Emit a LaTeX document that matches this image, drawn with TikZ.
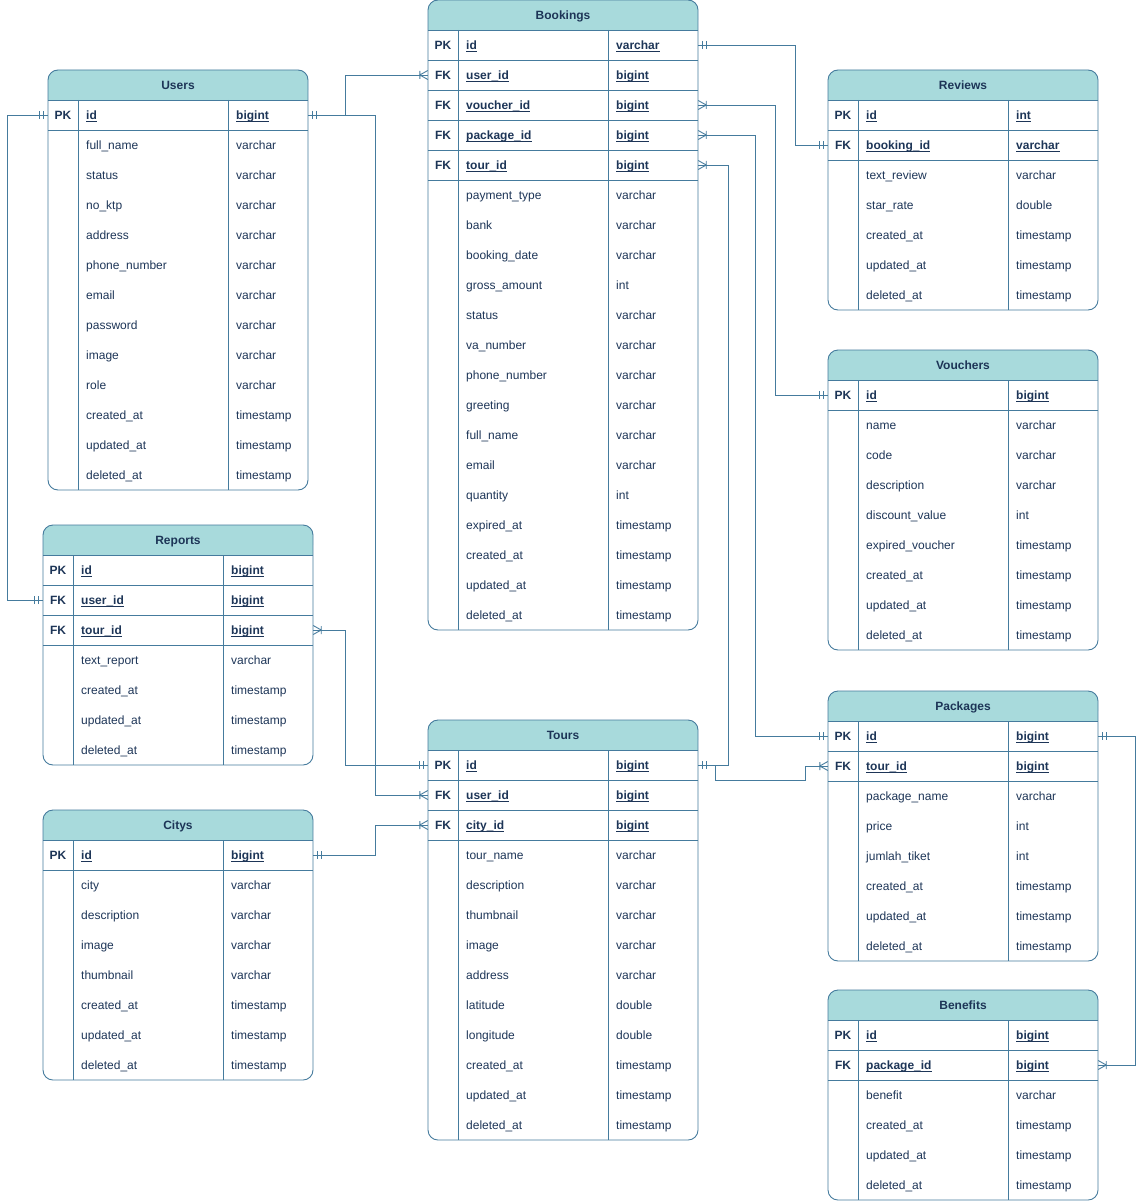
\documentclass[tikz,border=0pt]{standalone}
\usepackage{fontspec}
\setmainfont{Liberation Sans}

\definecolor{erline}{HTML}{457B9D}
\definecolor{erhead}{HTML}{A8DADC}
\definecolor{ertext}{HTML}{1D3557}

% crow's foot ends
\pgfarrowsdeclare{erone}{erone}
{\pgfarrowsleftextend{-9pt}\pgfarrowsrightextend{0pt}}
{\pgfsetdash{}{0pt}
 \pgfpathmoveto{\pgfpoint{-4pt}{-4pt}}\pgfpathlineto{\pgfpoint{-4pt}{4pt}}
 \pgfpathmoveto{\pgfpoint{-8pt}{-4pt}}\pgfpathlineto{\pgfpoint{-8pt}{4pt}}
 \pgfusepathqstroke}
\pgfarrowsdeclare{ermany}{ermany}
{\pgfarrowsleftextend{-9pt}\pgfarrowsrightextend{0pt}}
{\pgfsetdash{}{0pt}
 \pgfpathmoveto{\pgfpoint{0pt}{4.5pt}}\pgfpathlineto{\pgfpoint{-8pt}{0pt}}
 \pgfpathlineto{\pgfpoint{0pt}{-4.5pt}}
 \pgfpathmoveto{\pgfpoint{-8pt}{-4pt}}\pgfpathlineto{\pgfpoint{-8pt}{4pt}}
 \pgfusepathqstroke}

\tikzset{
  erbox/.style={draw=erline, line width=0.9pt},
  rowbox/.style={minimum height=30pt, inner sep=0pt, draw=none},
  keytxt/.style={inner sep=0pt, text height=8.6pt, text depth=0pt},
  fieldtxt/.style={keytxt, anchor=west},
  link/.style={draw=erline, line width=0.9pt},
  onetoone/.style={link, erone-erone},
  onetomany/.style={link, erone-ermany},
  manytoone/.style={link, ermany-erone}
}

\newcommand\keyul[1]{\setbox0\hbox{#1}\rlap{\rule[-2.4pt]{\wd0}{0.9pt}}\box0}

% #1 name, #2 x, #3 y, #4 width, #5 title, #6 key rows, #7 other rows
\newcommand\ertable[7]{%
  \foreach \pk/\fld/\typ [count=\i] in {#6} {
    \pgfmathsetmacro\ry{#3+30*\i+15}
    \node[rowbox, minimum width=#4] (#1-\fld) at (#2+#4/2,\ry) {};
    \node[keytxt] (#1-\fld-k) at (#2+15,\ry) {\bfseries\pk};
    \node[fieldtxt] (#1-\fld-n) at (#2+38,\ry) {\bfseries\keyul{\fld}};
    \node[fieldtxt] (#1-\fld-t) at (#2+188,\ry) {\bfseries\keyul{\typ}};
    \draw[erbox] (#2,\ry+15) -- (#2+#4,\ry+15);
    \xdef\nkeys{\i}
  }
  \foreach \fld/\typ [count=\i] in {#7} {
    \pgfmathsetmacro\ry{#3+30*(\i+\nkeys)+15}
    \node[rowbox, minimum width=#4] (#1-\fld) at (#2+#4/2,\ry) {};
    \node[fieldtxt] (#1-\fld-n) at (#2+38,\ry) {\fld};
    \node[fieldtxt] (#1-\fld-t) at (#2+188,\ry) {\typ};
    \xdef\nrows{\the\numexpr\i+\nkeys\relax}
  }
  \pgfmathsetmacro\yb{#3+30+30*\nrows}
  \fill[erhead, rounded corners=10pt] (#2,#3) rectangle (#2+#4,#3+30);
  \fill[erhead] (#2,#3+15) rectangle (#2+#4,#3+30);
  \node[keytxt] (#1) at (#2+#4/2,#3+15) {\bfseries #5};
  \draw[erbox, rounded corners=10pt] (#2,#3) rectangle (#2+#4,\yb);
  \draw[erbox] (#2,#3+30) -- (#2+#4,#3+30);
  \draw[erbox] (#2+30,#3+30) -- (#2+30,\yb) (#2+180,#3+30) -- (#2+180,\yb);
}

\begin{document}
\catcode`\_=12
\begin{tikzpicture}[x=1pt, y=-1pt, font=\fontsize{12}{14}\selectfont, text=ertext]
  \useasboundingbox (0,0) rectangle (1145,1201);

  \ertable{bookings}{428}{0}{270}{Bookings}
    {PK/id/varchar, FK/user_id/bigint, FK/voucher_id/bigint, FK/package_id/bigint, FK/tour_id/bigint}
    {payment_type/varchar, bank/varchar, booking_date/varchar, gross_amount/int, status/varchar,
     va_number/varchar, phone_number/varchar, greeting/varchar, full_name/varchar, email/varchar,
     quantity/int, expired_at/timestamp, created_at/timestamp, updated_at/timestamp, deleted_at/timestamp}

  \ertable{users}{48}{70}{260}{Users}
    {PK/id/bigint}
    {full_name/varchar, status/varchar, no_ktp/varchar, address/varchar, phone_number/varchar,
     email/varchar, password/varchar, image/varchar, role/varchar, created_at/timestamp,
     updated_at/timestamp, deleted_at/timestamp}

  \ertable{reviews}{828}{70}{270}{Reviews}
    {PK/id/int, FK/booking_id/varchar}
    {text_review/varchar, star_rate/double, created_at/timestamp, updated_at/timestamp, deleted_at/timestamp}

  \ertable{vouchers}{828}{350}{270}{Vouchers}
    {PK/id/bigint}
    {name/varchar, code/varchar, description/varchar, discount_value/int, expired_voucher/timestamp,
     created_at/timestamp, updated_at/timestamp, deleted_at/timestamp}

  \ertable{reports}{43}{525}{270}{Reports}
    {PK/id/bigint, FK/user_id/bigint, FK/tour_id/bigint}
    {text_report/varchar, created_at/timestamp, updated_at/timestamp, deleted_at/timestamp}

  \ertable{citys}{43}{810}{270}{Citys}
    {PK/id/bigint}
    {city/varchar, description/varchar, image/varchar, thumbnail/varchar, created_at/timestamp,
     updated_at/timestamp, deleted_at/timestamp}

  \ertable{tours}{428}{720}{270}{Tours}
    {PK/id/bigint, FK/user_id/bigint, FK/city_id/bigint}
    {tour_name/varchar, description/varchar, thumbnail/varchar, image/varchar, address/varchar,
     latitude/double, longitude/double, created_at/timestamp, updated_at/timestamp, deleted_at/timestamp}

  \ertable{packages}{828}{691}{270}{Packages}
    {PK/id/bigint, FK/tour_id/bigint}
    {package_name/varchar, price/int, jumlah_tiket/int, created_at/timestamp, updated_at/timestamp,
     deleted_at/timestamp}

  \ertable{benefits}{828}{990}{270}{Benefits}
    {PK/id/bigint, FK/package_id/bigint}
    {benefit/varchar, created_at/timestamp, updated_at/timestamp, deleted_at/timestamp}

  % relations
  \draw[onetomany] (users-id.east) -- +(37,0) |- (bookings-user_id.west);
  \draw[onetomany] (users-id.east) -- +(67,0) |- (tours-user_id.west);
  \draw[onetoone] (users-id.west) -- +(-40,0) |- (reports-user_id.west);
  \draw[onetoone] (bookings-id.east) -- +(97,0) |- (reviews-booking_id.west);
  \draw[manytoone] (bookings-voucher_id.east) -- +(77,0) |- (vouchers-id.west);
  \draw[manytoone] (bookings-package_id.east) -- +(57,0) |- (packages-id.west);
  \draw[manytoone] (bookings-tour_id.east) -- +(30,0) |- (tours-id.east);
  \draw[manytoone] (reports-tour_id.east) -- +(32,0) |- (tours-id.west);
  \draw[onetomany] (citys-id.east) -- +(62,0) |- (tours-city_id.west);
  \draw[onetomany] (tours-id.east) -- +(17,0) -- +(17,15) -- +(107,15) |- (packages-tour_id.west);
  \draw[onetomany] (packages-id.east) -- +(37,0) |- (benefits-package_id.east);
\end{tikzpicture}
\end{document}
